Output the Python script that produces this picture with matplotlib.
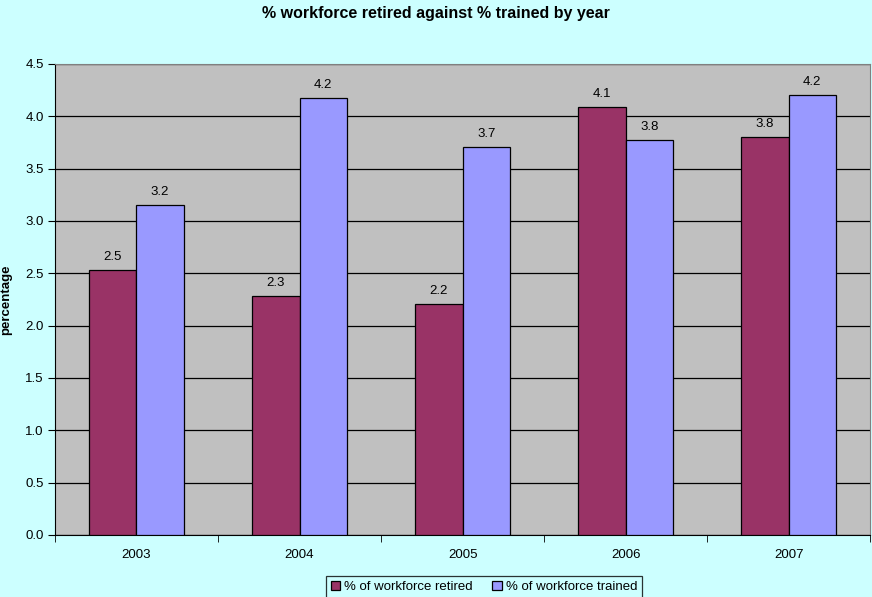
#!/usr/bin/env python3
import numpy as np
import matplotlib
matplotlib.use("Agg")
import matplotlib.pyplot as plt

# ======== Data ========
YEARS = ["2003", "2004", "2005", "2006", "2007"]
RETIRED = [2.53, 2.28, 2.21, 4.09, 3.80]
TRAINED = [3.15, 4.17, 3.71, 3.77, 4.20]
RETIRED_LABELS = ["2.5", "2.3", "2.2", "4.1", "3.8"]
TRAINED_LABELS = ["3.2", "4.2", "3.7", "3.8", "4.2"]

# ======== Style ========
plt.rcParams["font.family"] = ["Liberation Sans", "DejaVu Sans"]
FIG_BG = "#CCFFFF"
PLOT_BG = "#C0C0C0"
C_RETIRED = "#993366"
C_TRAINED = "#9999FF"
FS = 9.5


def main():
    fig = plt.figure(figsize=(8.72, 5.97), dpi=100, facecolor=FIG_BG)
    ax = fig.add_axes([0.063, 0.104, 0.935, 0.789])
    ax.set_facecolor(PLOT_BG)

    x = np.arange(len(YEARS))
    w = 0.29
    b1 = ax.bar(x - w / 2, RETIRED, w, color=C_RETIRED, edgecolor="black",
                linewidth=0.9, label="% of workforce retired", zorder=3)
    b2 = ax.bar(x + w / 2, TRAINED, w, color=C_TRAINED, edgecolor="black",
                linewidth=0.9, label="% of workforce trained", zorder=3)
    ax.bar_label(b1, labels=RETIRED_LABELS, padding=5, fontsize=FS)
    ax.bar_label(b2, labels=TRAINED_LABELS, padding=5, fontsize=FS)

    ax.set_xlim(-0.5, len(YEARS) - 0.5)
    ax.set_ylim(0, 4.5)
    ticks = np.arange(0, 4.51, 0.5)
    ax.set_yticks(ticks)
    ax.set_yticklabels([f"{v:.1f}" for v in ticks], fontsize=FS)
    ax.yaxis.grid(True, color="black", linewidth=0.9, zorder=1)
    ax.set_axisbelow(True)

    # category labels centered, ticks between categories
    ax.set_xticks(x)
    ax.set_xticklabels(YEARS, fontsize=FS)
    ax.tick_params(axis="x", length=0, pad=10)
    ax.set_xticks(np.arange(-0.5, len(YEARS), 1.0), minor=True)
    ax.tick_params(axis="x", which="minor", length=5, direction="out", color="black")
    ax.tick_params(axis="y", length=5, direction="out", color="black", pad=3)

    for s in ["top", "right"]:
        ax.spines[s].set_color("#808080")
    for s in ["left", "bottom"]:
        ax.spines[s].set_color("black")

    ax.set_ylabel("percentage", fontsize=FS, fontweight="bold")
    ax.yaxis.set_label_coords(-0.053, 0.5)
    fig.text(0.5, 0.978, "% workforce retired against % trained by year",
             ha="center", va="center", fontsize=11.5, fontweight="bold")

    leg = fig.legend(loc="lower center", bbox_to_anchor=(0.555, -0.012), ncol=2,
                     fontsize=FS, frameon=True, fancybox=False,
                     handlelength=0.7, handleheight=0.7, handletextpad=0.3,
                     columnspacing=1.5, borderpad=0.35)
    leg.get_frame().set_edgecolor("black")
    leg.get_frame().set_facecolor(FIG_BG)
    leg.get_frame().set_linewidth(0.9)

    fig.savefig("out.png", dpi=100, facecolor=FIG_BG)


if __name__ == "__main__":
    main()
